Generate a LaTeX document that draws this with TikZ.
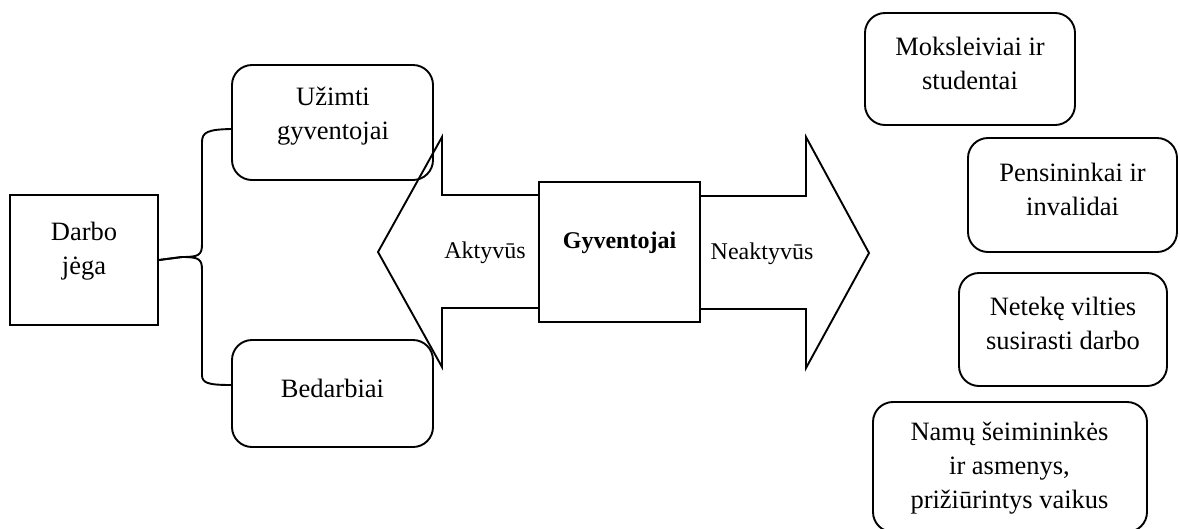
\documentclass[tikz,border=0pt]{standalone}
\usepackage{fontspec}
\setmainfont{Liberation Serif}
\begin{document}
\begin{tikzpicture}[x=1pt,y=-1pt,
  line width=1.9pt,
  rbox/.style={draw, rounded corners=20pt, inner sep=0pt},
  sbox/.style={draw, fill=white, inner sep=0pt},
  txt/.style={align=center, inner sep=0pt, font=\fontsize{26.5}{34}\selectfont},
  atxt/.style={align=center, inner sep=0pt, font=\fontsize{24}{30}\selectfont}]
\useasboundingbox (0,0) rectangle (1180,528);
% arrows
\coordinate (lA) at (539,195);
\coordinate (lB) at (539,308);
\coordinate (rA) at (700,196);
\coordinate (rB) at (700,309);
\draw[fill=white] (lA) -- (442,195) -- (442,137) -- (378,252) -- (442,367) -- (442,308) -- (lB);
\draw[fill=white] (rA) -- (806,196) -- (806,137) -- (869,253) -- (806,368) -- (806,309) -- (rB);
% left boxes
\node[sbox, minimum width=148pt, minimum height=130pt] (darbo) at (84,260) {};
\node[txt] (darbot) at (84,251) {Darbo\\jėga};
\node[rbox, minimum width=201pt, minimum height=115pt] (uzimti) at (332.5,122.5) {};
\node[txt] (uzimtit) at (333,116) {Užimti\\gyventojai};
\node[rbox, minimum width=201pt, minimum height=107pt] (bedarb) at (332.5,393.5) {};
\node[txt] (bedarbt) at (332.5,388) {Bedarbiai};
% brace
\draw (darbo.east) -- (182,257) .. controls (199,257) and (202,255) .. (202,244)
  -- (202,142) .. controls (202,132) and (208,129.5) .. ([yshift=-6.5pt]uzimti.west);
\draw (darbo.east) -- (182,257) .. controls (199,257) and (202,259) .. (202,270)
  -- (202,375) .. controls (202,383) and (208,385) .. ([yshift=8.5pt]bedarb.west);
% centre box
\node[sbox, minimum width=161pt, minimum height=140pt] (gyv) at (619.5,252) {};
\node[atxt, font=\fontsize{24}{30}\selectfont\bfseries] (gyvt) at (619.5,243) {Gyventojai};
\node[atxt] (akt) at (485,253) {Aktyvūs};
\node[atxt] (neakt) at (762,254) {Neaktyvūs};
% right boxes
\node[rbox, minimum width=210pt, minimum height=112pt] (moks) at (970,69) {};
\node[txt] (mokst) at (970,63) {Moksleiviai ir\\studentai};
\node[rbox, minimum width=209pt, minimum height=114pt] (pens) at (1072.5,195) {};
\node[txt] (penst) at (1072.5,189) {Pensininkai ir\\invalidai};
\node[rbox, minimum width=208pt, minimum height=113pt] (net) at (1063,329.5) {};
\node[txt] (nett) at (1063,323) {Netekę vilties\\susirasti darbo};
\node[rbox, minimum width=274pt, minimum height=130pt] (namu) at (1010,467) {};
\node[txt] (namut) at (1009.5,468) {Namų šeimininkės\\ir asmenys,\\prižiūrintys vaikus};
\end{tikzpicture}
\end{document}
